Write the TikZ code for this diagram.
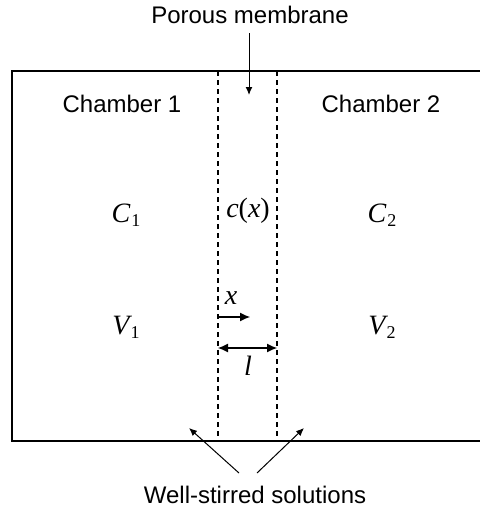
\documentclass[tikz,border=0pt]{standalone}
\usepackage{fontspec}
\setmainfont{Liberation Sans}
\newfontfamily\serf{Liberation Serif}
\usetikzlibrary{arrows.meta}
\newcommand{\subsc}[1]{\kern0.6pt\raisebox{-0.3ex}{\upshape\fontsize{9}{10}\selectfont #1}}
\begin{document}
\begin{tikzpicture}[x=0.5pt,y=-0.5pt,
  lbl/.style={font=\fontsize{12}{14}\selectfont, inner sep=0pt},
  var/.style={font=\serf\fontsize{14}{16}\selectfont\itshape, inner sep=0pt},
  wall/.style={line width=0.55pt},
  memb/.style={line width=0.55pt, dash pattern=on 2.5pt off 2pt},
  ptr/.style={line width=0.5pt, -{Latex[length=4pt,width=3.4pt]}},
  dim/.style={line width=0.55pt, -{Latex[length=5pt,width=4.5pt]}}]
\useasboundingbox (0,0) rectangle (480,514);
% chamber walls
\draw[wall] (480,71) -- (12,71) -- (12,441) -- (480,441);
% membrane
\coordinate (m1t) at (218,71);
\coordinate (m1b) at (218,441);
\coordinate (m2t) at (277,71);
\coordinate (m2b) at (277,441);
\draw[memb] (m1t) -- (m1b);
\draw[memb] (m2t) -- (m2b);
% labels
\node[lbl] (pm) at (250,15) {Porous membrane};
\coordinate (pmtip) at (249,95);
\draw[ptr] (249,33) -- (pmtip);
\node[lbl] (ch1) at (122,104) {Chamber 1};
\node[lbl] (ch2) at (381,104) {Chamber 2};
\node[var] (C1) at (126,215) {C\subsc{1}};
\node[var] (C2) at (382,215) {C\subsc{2}};
\node[var] (cx) at (248,211) {c\upshape(\itshape x\upshape)};
\node[var] (V1) at (126,327) {V\subsc{1}};
\node[var] (V2) at (382,327) {V\subsc{2}};
% x arrow
\node[var] (xl) at (231,298) {x};
\coordinate (xs) at (218,317);
\coordinate (xe) at (250,317);
\draw[dim] (xs) -- (xe);
% l arrow
\coordinate (ls) at (218,348);
\coordinate (le) at (277,348);
\draw[dim, {Latex[length=5pt,width=4.5pt]}-{Latex[length=5pt,width=4.5pt]}] (ls) -- (le);
\node[var] (ll) at (248,366) {l};
% well-stirred
\node[lbl] (ws) at (255,495) {Well-stirred solutions};
\coordinate (wsl) at (239,473);
\coordinate (wsr) at (257,473);
\coordinate (al) at (189,428);
\coordinate (ar) at (304,428);
\draw[ptr] (wsl) -- (al);
\draw[ptr] (wsr) -- (ar);
\end{tikzpicture}
\end{document}
